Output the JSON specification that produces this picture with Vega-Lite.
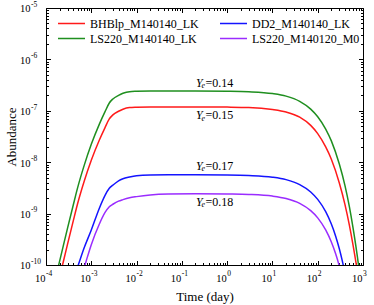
{
  "$schema": "https://vega.github.io/schema/vega-lite/v6.json",
  "width": 317,
  "height": 257,
  "autosize": {"type": "none"},
  "padding": {"left": 46, "top": 8, "right": 11, "bottom": 40},
  "config": {
    "view": {"stroke": "#000000", "strokeWidth": 1},
    "font": "Liberation Serif",
    "axis": {"grid": false, "domain": false, "tickColor": "#000000", "tickWidth": 1, "labels": false}
  },
  "datasets": {
    "curves": [
      {"s": "LS220_M140140_LK", "t": 0.00015, "v": 4.2e-11},
      {"s": "LS220_M140140_LK", "t": 0.0002, "v": 1.19e-10},
      {"s": "LS220_M140140_LK", "t": 0.0003, "v": 5.26e-10},
      {"s": "LS220_M140140_LK", "t": 0.0004, "v": 1.47e-9},
      {"s": "LS220_M140140_LK", "t": 0.0005, "v": 3.2e-9},
      {"s": "LS220_M140140_LK", "t": 0.0007, "v": 8.77e-9},
      {"s": "LS220_M140140_LK", "t": 0.001, "v": 2.23e-8},
      {"s": "LS220_M140140_LK", "t": 0.0015, "v": 5.45e-8},
      {"s": "LS220_M140140_LK", "t": 0.002, "v": 9.5e-8},
      {"s": "LS220_M140140_LK", "t": 0.0025, "v": 1.42e-7},
      {"s": "LS220_M140140_LK", "t": 0.003, "v": 1.70e-7},
      {"s": "LS220_M140140_LK", "t": 0.004, "v": 2.0e-7},
      {"s": "LS220_M140140_LK", "t": 0.005, "v": 2.19e-7},
      {"s": "LS220_M140140_LK", "t": 0.007, "v": 2.36e-7},
      {"s": "LS220_M140140_LK", "t": 0.01, "v": 2.40e-7},
      {"s": "LS220_M140140_LK", "t": 0.02, "v": 2.43e-7},
      {"s": "LS220_M140140_LK", "t": 0.05, "v": 2.43e-7},
      {"s": "LS220_M140140_LK", "t": 0.2, "v": 2.43e-7},
      {"s": "LS220_M140140_LK", "t": 1, "v": 2.40e-7},
      {"s": "LS220_M140140_LK", "t": 3, "v": 2.34e-7},
      {"s": "LS220_M140140_LK", "t": 10, "v": 2.16e-7},
      {"s": "LS220_M140140_LK", "t": 20, "v": 1.93e-7},
      {"s": "LS220_M140140_LK", "t": 40, "v": 1.53e-7},
      {"s": "LS220_M140140_LK", "t": 70, "v": 1.08e-7},
      {"s": "LS220_M140140_LK", "t": 100, "v": 7.67e-8},
      {"s": "LS220_M140140_LK", "t": 150, "v": 4.42e-8},
      {"s": "LS220_M140140_LK", "t": 200, "v": 2.6e-8},
      {"s": "LS220_M140140_LK", "t": 300, "v": 9.2e-9},
      {"s": "LS220_M140140_LK", "t": 400, "v": 3.5e-9},
      {"s": "LS220_M140140_LK", "t": 500, "v": 1.36e-9},
      {"s": "LS220_M140140_LK", "t": 600, "v": 5.4e-10},
      {"s": "LS220_M140140_LK", "t": 700, "v": 2.26e-10},
      {"s": "LS220_M140140_LK", "t": 800, "v": 9.7e-11},
      {"s": "LS220_M140140_LK", "t": 900, "v": 4.1e-11},

      {"s": "BHBlp_M140140_LK", "t": 0.00015, "v": 2.06e-11},
      {"s": "BHBlp_M140140_LK", "t": 0.0002, "v": 5.83e-11},
      {"s": "BHBlp_M140140_LK", "t": 0.0003, "v": 2.58e-10},
      {"s": "BHBlp_M140140_LK", "t": 0.0004, "v": 7.2e-10},
      {"s": "BHBlp_M140140_LK", "t": 0.0005, "v": 1.57e-9},
      {"s": "BHBlp_M140140_LK", "t": 0.0007, "v": 4.3e-9},
      {"s": "BHBlp_M140140_LK", "t": 0.001, "v": 1.09e-8},
      {"s": "BHBlp_M140140_LK", "t": 0.0015, "v": 2.67e-8},
      {"s": "BHBlp_M140140_LK", "t": 0.002, "v": 4.66e-8},
      {"s": "BHBlp_M140140_LK", "t": 0.0025, "v": 6.96e-8},
      {"s": "BHBlp_M140140_LK", "t": 0.003, "v": 8.33e-8},
      {"s": "BHBlp_M140140_LK", "t": 0.004, "v": 9.8e-8},
      {"s": "BHBlp_M140140_LK", "t": 0.005, "v": 1.074e-7},
      {"s": "BHBlp_M140140_LK", "t": 0.007, "v": 1.157e-7},
      {"s": "BHBlp_M140140_LK", "t": 0.01, "v": 1.176e-7},
      {"s": "BHBlp_M140140_LK", "t": 0.02, "v": 1.19e-7},
      {"s": "BHBlp_M140140_LK", "t": 0.05, "v": 1.19e-7},
      {"s": "BHBlp_M140140_LK", "t": 0.2, "v": 1.19e-7},
      {"s": "BHBlp_M140140_LK", "t": 1, "v": 1.18e-7},
      {"s": "BHBlp_M140140_LK", "t": 3, "v": 1.16e-7},
      {"s": "BHBlp_M140140_LK", "t": 10, "v": 1.06e-7},
      {"s": "BHBlp_M140140_LK", "t": 20, "v": 9.46e-8},
      {"s": "BHBlp_M140140_LK", "t": 40, "v": 7.52e-8},
      {"s": "BHBlp_M140140_LK", "t": 70, "v": 5.2e-8},
      {"s": "BHBlp_M140140_LK", "t": 100, "v": 3.6e-8},
      {"s": "BHBlp_M140140_LK", "t": 150, "v": 1.98e-8},
      {"s": "BHBlp_M140140_LK", "t": 200, "v": 1.14e-8},
      {"s": "BHBlp_M140140_LK", "t": 300, "v": 3.94e-9},
      {"s": "BHBlp_M140140_LK", "t": 400, "v": 1.5e-9},
      {"s": "BHBlp_M140140_LK", "t": 500, "v": 5.97e-10},
      {"s": "BHBlp_M140140_LK", "t": 600, "v": 2.49e-10},
      {"s": "BHBlp_M140140_LK", "t": 700, "v": 1.11e-10},
      {"s": "BHBlp_M140140_LK", "t": 800, "v": 5.0e-11},

      {"s": "DD2_M140140_LK", "t": 0.0003, "v": 2.6e-11},
      {"s": "DD2_M140140_LK", "t": 0.0004, "v": 5.3e-11},
      {"s": "DD2_M140140_LK", "t": 0.0005, "v": 9.2e-11},
      {"s": "DD2_M140140_LK", "t": 0.0007, "v": 2.18e-10},
      {"s": "DD2_M140140_LK", "t": 0.001, "v": 4.79e-10},
      {"s": "DD2_M140140_LK", "t": 0.0015, "v": 1.26e-9},
      {"s": "DD2_M140140_LK", "t": 0.002, "v": 2.24e-9},
      {"s": "DD2_M140140_LK", "t": 0.0025, "v": 3.1e-9},
      {"s": "DD2_M140140_LK", "t": 0.003, "v": 3.58e-9},
      {"s": "DD2_M140140_LK", "t": 0.004, "v": 4.35e-9},
      {"s": "DD2_M140140_LK", "t": 0.005, "v": 4.78e-9},
      {"s": "DD2_M140140_LK", "t": 0.007, "v": 5.16e-9},
      {"s": "DD2_M140140_LK", "t": 0.01, "v": 5.46e-9},
      {"s": "DD2_M140140_LK", "t": 0.02, "v": 5.65e-9},
      {"s": "DD2_M140140_LK", "t": 0.05, "v": 5.7e-9},
      {"s": "DD2_M140140_LK", "t": 0.2, "v": 5.7e-9},
      {"s": "DD2_M140140_LK", "t": 1, "v": 5.65e-9},
      {"s": "DD2_M140140_LK", "t": 3, "v": 5.52e-9},
      {"s": "DD2_M140140_LK", "t": 10, "v": 5.12e-9},
      {"s": "DD2_M140140_LK", "t": 20, "v": 4.58e-9},
      {"s": "DD2_M140140_LK", "t": 40, "v": 3.67e-9},
      {"s": "DD2_M140140_LK", "t": 70, "v": 2.64e-9},
      {"s": "DD2_M140140_LK", "t": 100, "v": 1.89e-9},
      {"s": "DD2_M140140_LK", "t": 150, "v": 1.09e-9},
      {"s": "DD2_M140140_LK", "t": 200, "v": 6.27e-10},
      {"s": "DD2_M140140_LK", "t": 250, "v": 3.6e-10},
      {"s": "DD2_M140140_LK", "t": 300, "v": 2.07e-10},
      {"s": "DD2_M140140_LK", "t": 350, "v": 1.19e-10},
      {"s": "DD2_M140140_LK", "t": 400, "v": 6.9e-11},
      {"s": "DD2_M140140_LK", "t": 450, "v": 3.95e-11},

      {"s": "LS220_M140120_M0", "t": 0.0005, "v": 3.4e-11},
      {"s": "LS220_M140120_M0", "t": 0.0006, "v": 5.7e-11},
      {"s": "LS220_M140120_M0", "t": 0.0007, "v": 9.0e-11},
      {"s": "LS220_M140120_M0", "t": 0.0008, "v": 1.33e-10},
      {"s": "LS220_M140120_M0", "t": 0.001, "v": 2.48e-10},
      {"s": "LS220_M140120_M0", "t": 0.0015, "v": 6.2e-10},
      {"s": "LS220_M140120_M0", "t": 0.002, "v": 1.04e-9},
      {"s": "LS220_M140120_M0", "t": 0.0025, "v": 1.36e-9},
      {"s": "LS220_M140120_M0", "t": 0.003, "v": 1.52e-9},
      {"s": "LS220_M140120_M0", "t": 0.004, "v": 1.75e-9},
      {"s": "LS220_M140120_M0", "t": 0.005, "v": 1.87e-9},
      {"s": "LS220_M140120_M0", "t": 0.007, "v": 2.03e-9},
      {"s": "LS220_M140120_M0", "t": 0.01, "v": 2.14e-9},
      {"s": "LS220_M140120_M0", "t": 0.02, "v": 2.31e-9},
      {"s": "LS220_M140120_M0", "t": 0.05, "v": 2.41e-9},
      {"s": "LS220_M140120_M0", "t": 0.2, "v": 2.44e-9},
      {"s": "LS220_M140120_M0", "t": 1, "v": 2.41e-9},
      {"s": "LS220_M140120_M0", "t": 3, "v": 2.36e-9},
      {"s": "LS220_M140120_M0", "t": 10, "v": 2.19e-9},
      {"s": "LS220_M140120_M0", "t": 20, "v": 1.96e-9},
      {"s": "LS220_M140120_M0", "t": 40, "v": 1.58e-9},
      {"s": "LS220_M140120_M0", "t": 70, "v": 1.14e-9},
      {"s": "LS220_M140120_M0", "t": 100, "v": 8.26e-10},
      {"s": "LS220_M140120_M0", "t": 150, "v": 4.81e-10},
      {"s": "LS220_M140120_M0", "t": 200, "v": 2.8e-10},
      {"s": "LS220_M140120_M0", "t": 250, "v": 1.63e-10},
      {"s": "LS220_M140120_M0", "t": 300, "v": 9.5e-11},
      {"s": "LS220_M140120_M0", "t": 350, "v": 5.5e-11}
    ],
    "xlab": [
      {"t": 0.0001, "e": "-4"}, {"t": 0.001, "e": "-3"}, {"t": 0.01, "e": "-2"}, {"t": 0.1, "e": "-1"},
      {"t": 1, "e": "0"}, {"t": 10, "e": "1"}, {"t": 100, "e": "2"}, {"t": 1000, "e": "3"}
    ],
    "ylab": [
      {"v": 1e-10, "e": "-10"}, {"v": 1e-9, "e": "-9"}, {"v": 1e-8, "e": "-8"},
      {"v": 1e-7, "e": "-7"}, {"v": 1e-6, "e": "-6"}, {"v": 1e-5, "e": "-5"}
    ],
    "ye": [
      {"t": 0.205, "v": 3.52e-7, "n": "=0.14"},
      {"t": 0.205, "v": 8.28e-8, "n": "=0.15"},
      {"t": 0.205, "v": 8.44e-9, "n": "=0.17"},
      {"t": 0.205, "v": 1.71e-9, "n": "=0.18"}
    ]
  },
  "layer": [
    {
      "data": {"name": "curves"},
      "mark": {"type": "line", "strokeWidth": 1.5, "interpolate": "monotone", "clip": true},
      "encoding": {
        "x": {
          "field": "t", "type": "quantitative",
          "scale": {"type": "log", "domain": [0.0001, 1000], "nice": false},
          "axis": {
            "orient": "bottom", "values": [0.0001, 0.001, 0.01, 0.1, 1, 10, 100, 1000],
            "tickSize": -4.5, "title": "Time (day)", "titleFont": "Liberation Serif",
            "titleFontSize": 13, "titleFontWeight": "normal", "titleColor": "#000000",
            "titleAlign": "center", "titleBaseline": "alphabetic", "titleX": 158.5, "titleY": 35
          }
        },
        "y": {
          "field": "v", "type": "quantitative",
          "scale": {"type": "log", "domain": [1e-10, 1e-5], "nice": false},
          "axis": {
            "orient": "left", "values": [1e-10, 1e-9, 1e-8, 1e-7, 1e-6, 1e-5],
            "tickSize": -4.5, "title": "Abundance", "titleFont": "Liberation Serif",
            "titleFontSize": 13, "titleFontWeight": "normal", "titleColor": "#000000",
            "titleAngle": -90, "titleAlign": "center", "titleBaseline": "alphabetic",
            "titleX": -31, "titleY": 128.5
          }
        },
        "color": {
          "field": "s", "type": "nominal",
          "scale": {
            "domain": ["BHBlp_M140140_LK", "DD2_M140140_LK", "LS220_M140140_LK", "LS220_M140120_M0"],
            "range": ["#ff1a1a", "#1414ff", "#1f8f1f", "#9a2cff"]
          },
          "legend": {
            "title": null, "orient": "none", "legendX": 11, "legendY": 8, "padding": 0,
            "columns": 2, "direction": "horizontal", "columnPadding": 20, "rowPadding": 0,
            "symbolType": "stroke", "symbolSize": 729, "symbolStrokeWidth": 1.5, "clipHeight": 15,
            "labelFont": "Liberation Serif", "labelFontSize": 12, "labelColor": "#000000",
            "labelOffset": 4, "labelLimit": 200
          }
        }
      }
    },
    {
      "data": {"name": "curves"},
      "mark": {"type": "point", "opacity": 0},
      "encoding": {
        "x": {
          "field": "t", "type": "quantitative",
          "axis": {
            "orient": "bottom", "title": null, "tickSize": -2.5,
            "values": [0.0002,0.0003,0.0004,0.0005,0.0006,0.0007,0.0008,0.0009,
                       0.002,0.003,0.004,0.005,0.006,0.007,0.008,0.009,
                       0.02,0.03,0.04,0.05,0.06,0.07,0.08,0.09,
                       0.2,0.3,0.4,0.5,0.6,0.7,0.8,0.9,
                       2,3,4,5,6,7,8,9,20,30,40,50,60,70,80,90,200,300,400,500,600,700,800,900]
          }
        },
        "y": {
          "field": "v", "type": "quantitative",
          "axis": {
            "orient": "left", "title": null, "tickSize": -2.5,
            "values": [2e-10,3e-10,4e-10,5e-10,6e-10,7e-10,8e-10,9e-10,
                       2e-9,3e-9,4e-9,5e-9,6e-9,7e-9,8e-9,9e-9,
                       2e-8,3e-8,4e-8,5e-8,6e-8,7e-8,8e-8,9e-8,
                       2e-7,3e-7,4e-7,5e-7,6e-7,7e-7,8e-7,9e-7,
                       2e-6,3e-6,4e-6,5e-6,6e-6,7e-6,8e-6,9e-6]
          }
        }
      }
    },
    {
      "data": {"name": "curves"},
      "mark": {"type": "point", "opacity": 0},
      "encoding": {
        "x": {
          "field": "t", "type": "quantitative",
          "axis": {"orient": "top", "title": null, "tickSize": -4.5, "values": [0.0001, 0.001, 0.01, 0.1, 1, 10, 100, 1000]}
        },
        "y": {
          "field": "v", "type": "quantitative",
          "axis": {"orient": "right", "title": null, "tickSize": -4.5, "values": [1e-10, 1e-9, 1e-8, 1e-7, 1e-6, 1e-5]}
        }
      }
    },
    {
      "data": {"name": "curves"},
      "mark": {"type": "point", "opacity": 0},
      "encoding": {
        "x": {
          "field": "t", "type": "quantitative",
          "axis": {
            "orient": "top", "title": null, "tickSize": -2.5,
            "values": [0.0002,0.0003,0.0004,0.0005,0.0006,0.0007,0.0008,0.0009,
                       0.002,0.003,0.004,0.005,0.006,0.007,0.008,0.009,
                       0.02,0.03,0.04,0.05,0.06,0.07,0.08,0.09,
                       0.2,0.3,0.4,0.5,0.6,0.7,0.8,0.9,
                       2,3,4,5,6,7,8,9,20,30,40,50,60,70,80,90,200,300,400,500,600,700,800,900]
          }
        },
        "y": {
          "field": "v", "type": "quantitative",
          "axis": {
            "orient": "right", "title": null, "tickSize": -2.5,
            "values": [2e-10,3e-10,4e-10,5e-10,6e-10,7e-10,8e-10,9e-10,
                       2e-9,3e-9,4e-9,5e-9,6e-9,7e-9,8e-9,9e-9,
                       2e-8,3e-8,4e-8,5e-8,6e-8,7e-8,8e-8,9e-8,
                       2e-7,3e-7,4e-7,5e-7,6e-7,7e-7,8e-7,9e-7,
                       2e-6,3e-6,4e-6,5e-6,6e-6,7e-6,8e-6,9e-6]
          }
        }
      }
    },
    {
      "data": {"name": "xlab"},
      "mark": {"type": "text", "text": "10", "font": "Liberation Serif", "fontSize": 10.5, "align": "right", "baseline": "alphabetic", "dx": -0.5, "dy": 16.7, "color": "#000000"},
      "encoding": {
        "x": {"field": "t", "type": "quantitative", "axis": null},
        "y": {"datum": 1e-10, "type": "quantitative", "axis": null}
      }
    },
    {
      "data": {"name": "xlab"},
      "mark": {"type": "text", "font": "Liberation Serif", "fontSize": 7.5, "align": "left", "baseline": "alphabetic", "dx": 0, "dy": 11, "color": "#000000"},
      "encoding": {
        "x": {"field": "t", "type": "quantitative", "axis": null},
        "y": {"datum": 1e-10, "type": "quantitative", "axis": null},
        "text": {"field": "e"}
      }
    },
    {
      "data": {"name": "ylab"},
      "mark": {"type": "text", "text": "10", "font": "Liberation Serif", "fontSize": 10.5, "align": "left", "baseline": "alphabetic", "dx": -26, "dy": 4.3, "color": "#000000"},
      "encoding": {
        "x": {"datum": 0.0001, "type": "quantitative", "axis": null},
        "y": {"field": "v", "type": "quantitative", "axis": null}
      }
    },
    {
      "data": {"name": "ylab"},
      "mark": {"type": "text", "font": "Liberation Serif", "fontSize": 7.5, "align": "left", "baseline": "alphabetic", "dx": -15, "dy": -1.2, "color": "#000000"},
      "encoding": {
        "x": {"datum": 0.0001, "type": "quantitative", "axis": null},
        "y": {"field": "v", "type": "quantitative", "axis": null},
        "text": {"field": "e"}
      }
    },
    {
      "data": {"name": "ye"},
      "mark": {"type": "text", "text": "Y", "font": "Liberation Serif", "fontStyle": "italic", "fontSize": 12, "align": "left", "baseline": "middle", "dx": 0, "color": "#000000"},
      "encoding": {
        "x": {"field": "t", "type": "quantitative", "axis": null},
        "y": {"field": "v", "type": "quantitative", "axis": null}
      }
    },
    {
      "data": {"name": "ye"},
      "mark": {"type": "text", "text": "e", "font": "Liberation Serif", "fontStyle": "italic", "fontSize": 8, "align": "left", "baseline": "middle", "dx": 5.5, "dy": 3.5, "color": "#000000"},
      "encoding": {
        "x": {"field": "t", "type": "quantitative", "axis": null},
        "y": {"field": "v", "type": "quantitative", "axis": null}
      }
    },
    {
      "data": {"name": "ye"},
      "mark": {"type": "text", "font": "Liberation Serif", "fontSize": 12, "align": "left", "baseline": "middle", "dx": 9.5, "color": "#000000"},
      "encoding": {
        "x": {"field": "t", "type": "quantitative", "axis": null},
        "y": {"field": "v", "type": "quantitative", "axis": null},
        "text": {"field": "n"}
      }
    }
  ],
  "resolve": {"axis": {"x": "independent", "y": "independent"}}
}
